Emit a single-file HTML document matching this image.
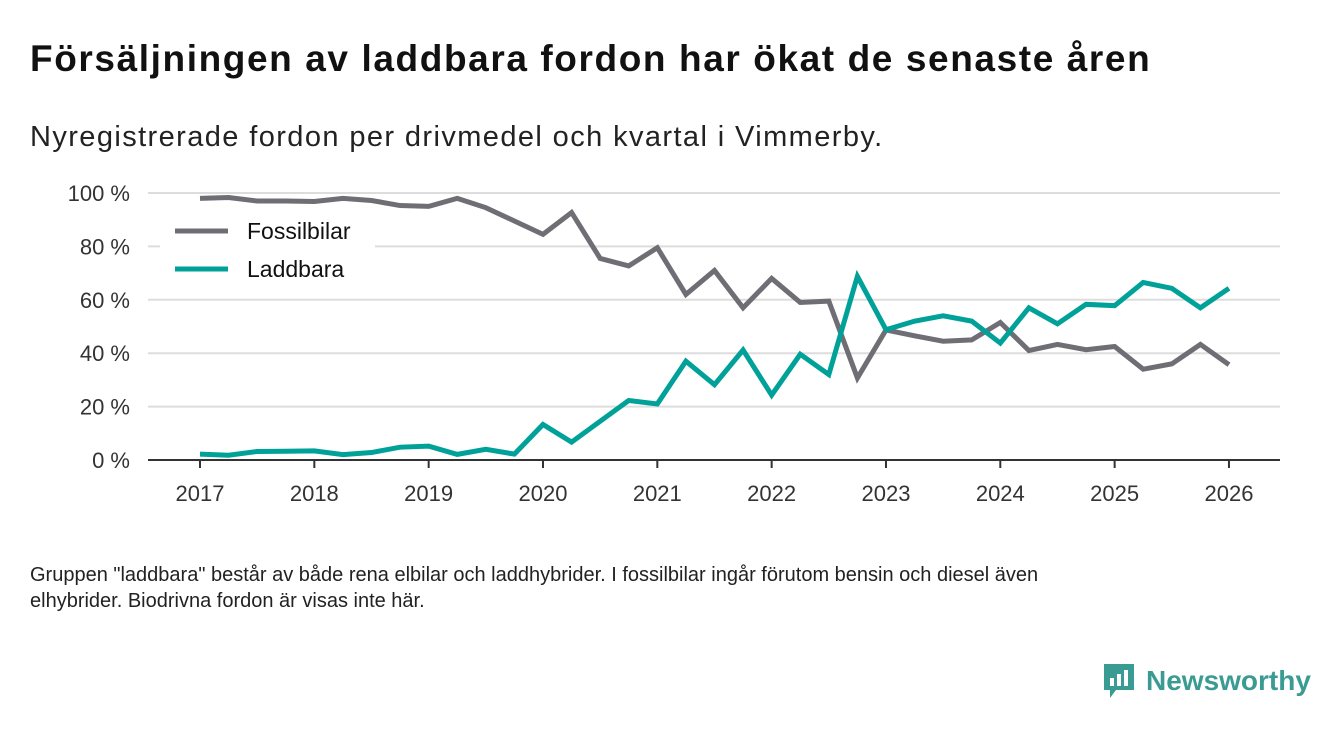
<!DOCTYPE html>
<html><head><meta charset="utf-8"><style>
body{margin:0;width:1340px;height:733px;background:#fff;font-family:"Liberation Sans",sans-serif;overflow:hidden;position:relative}
h1{position:absolute;left:30px;top:38px;margin:0;font-size:37px;letter-spacing:1.6px;font-weight:bold;color:#111;white-space:nowrap}
.sub{position:absolute;left:30px;top:121px;font-size:29px;letter-spacing:1.4px;color:#222;white-space:nowrap}
.foot{position:absolute;left:30px;top:562px;font-size:20px;color:#222;line-height:26px;width:1020px}
.logo{position:absolute;left:1102px;top:662px;display:flex;align-items:center;gap:10px;font-size:28px;font-weight:bold;color:#3a9b93}
</style></head><body>
<h1>Försäljningen av laddbara fordon har ökat de senaste åren</h1>
<div class="sub">Nyregistrerade fordon per drivmedel och kvartal i Vimmerby.</div>
<svg id="chart" width="1340" height="733" style="position:absolute;left:0;top:0"></svg>
<div class="foot">Gruppen "laddbara" består av både rena elbilar och laddhybrider. I fossilbilar ingår förutom bensin och diesel även elhybrider. Biodrivna fordon är visas inte här.</div>
<div class="logo"><svg width="34" height="38" viewBox="0 0 34 38"><path d="M2 2h30v26H14l-6 8v-8H2z" fill="#3a9b93"/><rect x="8" y="16" width="4" height="8" fill="#fff"/><rect x="15" y="12" width="4" height="12" fill="#fff"/><rect x="22" y="8" width="4" height="16" fill="#fff"/></svg><span>Newsworthy</span></div>
<script>
const years=[2017,2018,2019,2020,2021,2022,2023,2024,2025,2026];
const yTicks=[0,20,40,60,80,100];
const fossil=[98,98.3,97,97,96.8,98,97.2,95.3,95,98,94.5,89.5,84.5,92.7,75.5,72.7,79.5,62,71,57,68,59,59.5,30.7,48.7,46.5,44.5,45,51.5,41,43.3,41.3,42.5,34,36,43.3,35.7];
const laddbara=[2.2,1.8,3.2,3.3,3.4,2,2.8,4.8,5.2,2.1,4,2.2,13.3,6.7,14.5,22.3,21,37,28.2,41.2,24.3,39.6,32,68.8,48.8,52,54,52,43.8,57,51,58.3,57.8,66.5,64.3,57,64.3];
const svg=document.getElementById('chart'),NS='http://www.w3.org/2000/svg';
const x=t=>200+(t-2017)*114.33, y=v=>460-v*2.67;
function mk(tag,a){const e=document.createElementNS(NS,tag);for(const k in a)e.setAttribute(k,a[k]);svg.appendChild(e);return e;}
yTicks.forEach(v=>{
 if(v>0){const g=mk('line',{x1:148,x2:1280,y1:y(v),y2:y(v),stroke:'#ddd','stroke-width':2});
 
 }
 const t=mk('text',{x:130,y:y(v)+8,'text-anchor':'end','font-size':22,fill:'#333','font-family':'Liberation Sans'});t.textContent=v+' %';
 
 
});
const ax=mk('line',{x1:148,x2:1280,y1:460,y2:460,stroke:'#333','stroke-width':2});


years.forEach(yr=>{
 mk('line',{x1:x(yr),x2:x(yr),y1:460,y2:468,stroke:'#333','stroke-width':2});
 const t=mk('text',{x:x(yr),y:501,'text-anchor':'middle','font-size':22,fill:'#333','font-family':'Liberation Sans'});t.textContent=yr;
 
 
});
function line(d,c,n){const p=mk('polyline',{points:d.map((v,i)=>x(2017+i/4)+','+y(v)).join(' '),fill:'none',stroke:c,'stroke-width':5,'stroke-linejoin':'miter'});
 
 }
line(fossil,'#6f6e74','fossilbilar-line');
line(laddbara,'#00a198','laddbara-line');
const bg=mk('rect',{x:160,y:212,width:215,height:76,fill:'#fff'});


[['Fossilbilar','#6f6e74',231],['Laddbara','#00a198',269]].forEach(([n,c,yy])=>{
 mk('line',{x1:175,x2:228,y1:yy,y2:yy,stroke:c,'stroke-width':5});
 const t=mk('text',{x:247,y:yy+8,'font-size':23,fill:'#111','font-family':'Liberation Sans'});t.textContent=n;
 
 
});
</script>
</body></html>
